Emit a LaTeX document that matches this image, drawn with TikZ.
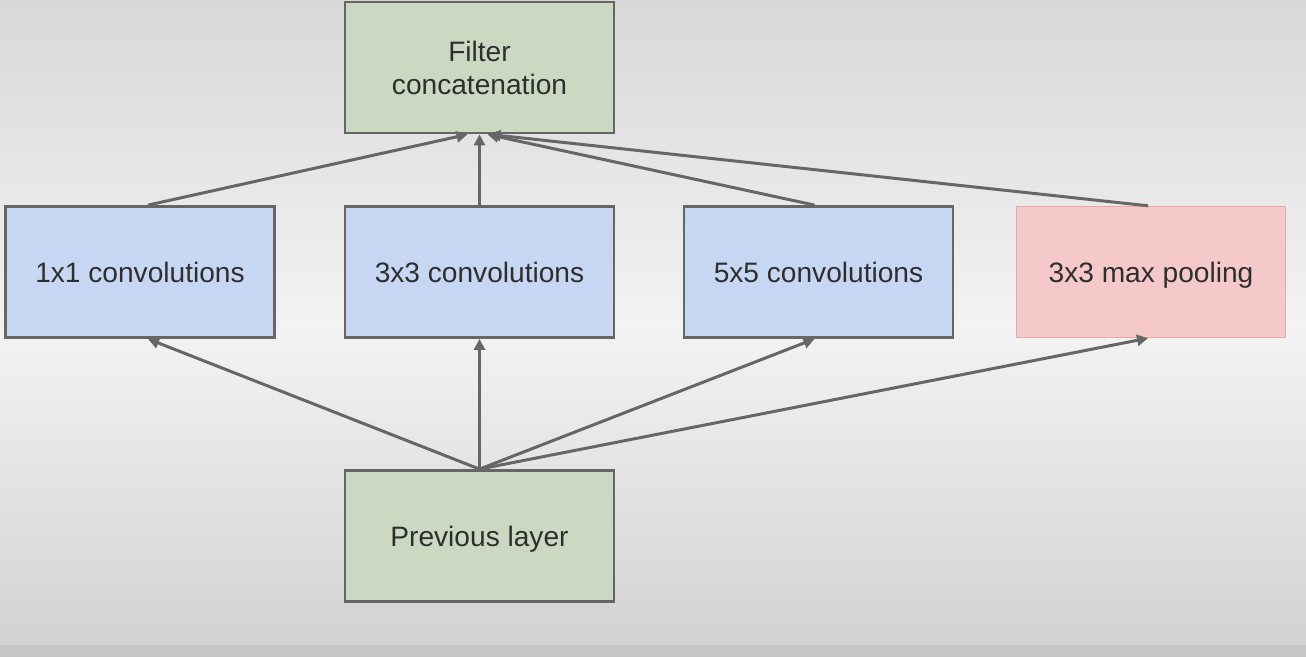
\documentclass[tikz,border=0pt]{standalone}
\usepackage{fontspec}
\setmainfont{Liberation Sans}
\usetikzlibrary{arrows.meta}
\definecolor{bgtop}{HTML}{D8D8D8}
\definecolor{bgmid}{HTML}{F3F3F3}
\definecolor{bgbot}{HTML}{D2D2D2}
\definecolor{bgstrip}{HTML}{C6C6C6}
\definecolor{edge}{HTML}{666666}
\definecolor{greenbox}{HTML}{CBD9C2}
\definecolor{bluebox}{HTML}{C7D7F3}
\definecolor{pinkbox}{HTML}{F5C9C9}
\definecolor{pinkedge}{HTML}{E2AAAA}
\definecolor{labeltext}{HTML}{2E2E2E}
\begin{document}
\begin{tikzpicture}[
    box/.style={draw=edge, line width=0.8pt, minimum width=2.69cm, minimum height=1.31cm,
      inner sep=0pt, align=center, text=labeltext, font=\fontsize{8}{9.4}\selectfont},
    link/.style={draw=edge, line width=0.85pt, -{Triangle[length=0.11cm, width=0.11cm]}}
  ]
  % Background, light in the middle and darker at top and bottom
  \shade [top color=bgtop, bottom color=bgmid] (0,3.3) rectangle (13.06,6.57);
  \shade [top color=bgmid, bottom color=bgbot] (0,0.12) rectangle (13.06,3.3);
  \fill [bgstrip] (0,0) rectangle (13.06,0.12);
  \useasboundingbox (0,0) rectangle (13.06,6.57);

  % Top and bottom layers
  \node [box, fill=greenbox] (concat) at (4.795,5.895) {Filter\\concatenation};
  \node [box, fill=greenbox, text depth=0pt] (prev) at (4.795,1.21) {Previous layer};

  % The four parallel branches
  \node [box, fill=bluebox] (conv1) at (1.40,3.85) {1x1 convolutions};
  \node [box, fill=bluebox] (conv3) at (4.795,3.85) {3x3 convolutions};
  \node [box, fill=bluebox] (conv5) at (8.185,3.85) {5x5 convolutions};
  \node [box, fill=pinkbox, draw=pinkedge, line width=0.4pt, text depth=0pt] (pool) at (11.51,3.85) {3x3 max pooling};

  % Connections from the previous layer and into the concatenation
  \foreach \branch/\shift/\tip in {conv1/0.08/-0.12, conv3/0/0, conv5/-0.04/0.08, pool/-0.03/0.1} {
    \draw [link] (prev.north) -- ([xshift=\shift cm]\branch.south);
    \draw [link] ([xshift=\shift cm]\branch.north) -- ([xshift=\tip cm]concat.south);
  }
\end{tikzpicture}
\end{document}
